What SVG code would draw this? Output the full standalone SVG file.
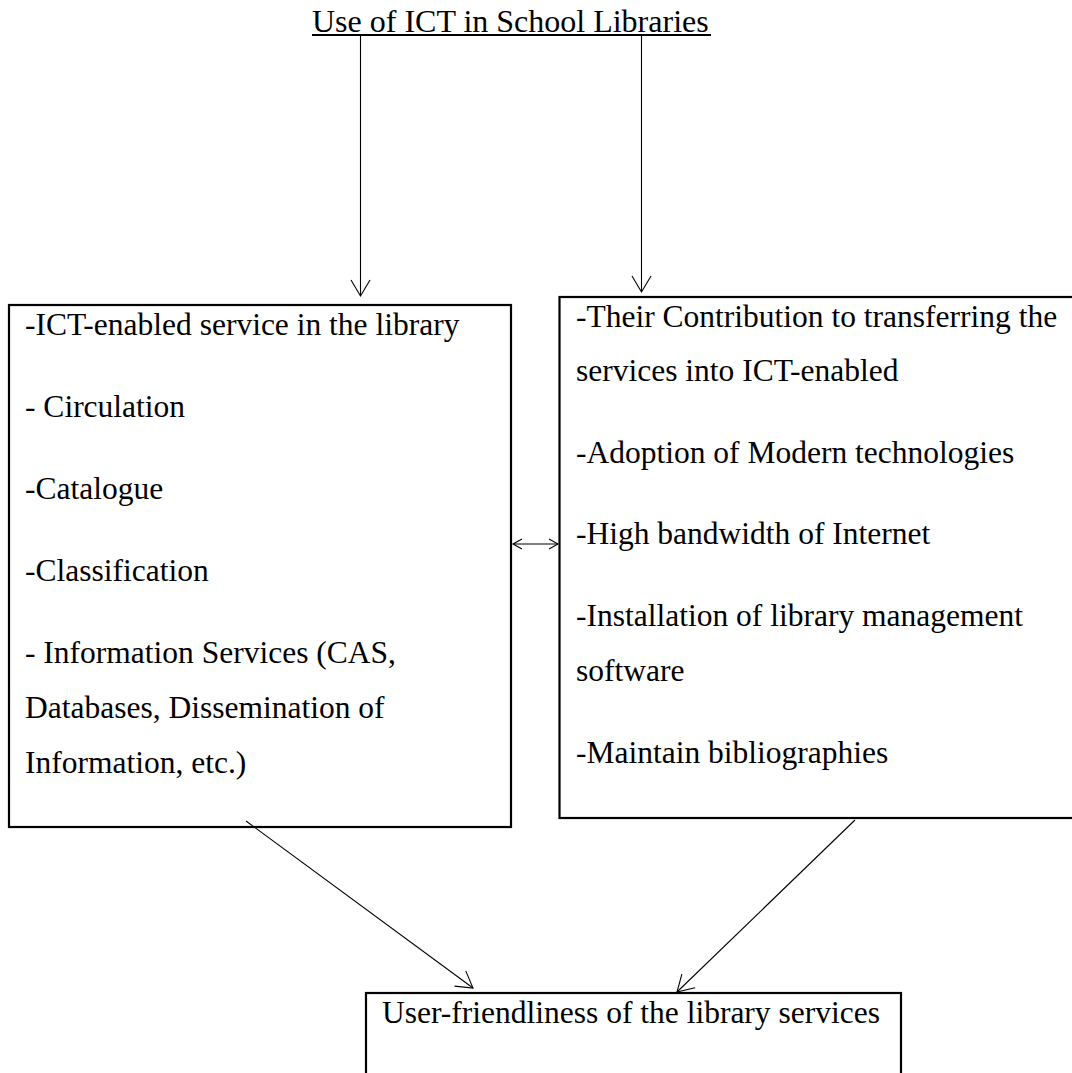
<svg xmlns="http://www.w3.org/2000/svg" width="1072" height="1073" viewBox="0 0 1072 1073">
<style>
  text { font-family: "Liberation Serif", "Times New Roman", serif; font-size: 31.5px; fill: #000; }
  .title { font-size: 32px; }
  .box { fill: #fff; stroke: #000; stroke-width: 2.2; }
  .conn { fill: none; stroke: #000; stroke-width: 1.1; }
</style>
<defs>
  <marker id="arr" viewBox="0 0 16 19" refX="16" refY="9.5" markerWidth="16" markerHeight="19" markerUnits="userSpaceOnUse" orient="auto" overflow="visible">
    <path d="M0,0 L16,9.5 L0,19" fill="none" stroke="#000" stroke-width="1.1"/>
  </marker>
  <marker id="arrs" viewBox="0 0 9 10" refX="9" refY="5" markerWidth="9" markerHeight="10" markerUnits="userSpaceOnUse" orient="auto-start-reverse" overflow="visible">
    <path d="M0,0 L9,5 L0,10" fill="none" stroke="#000" stroke-width="1.1"/>
  </marker>
</defs>
<rect width="1072" height="1073" fill="#fff"/>

<g id="title">
  <text class="title" x="312" y="31.5">Use of ICT in School Libraries</text>
  <line x1="312" y1="35" x2="711" y2="35" stroke="#000" stroke-width="2"/>
</g>

<g id="left-box">
  <rect class="box" x="9" y="305" width="502" height="522"/>
  <text x="25" y="335">-ICT-enabled service in the library</text>
  <text x="25" y="417">- Circulation</text>
  <text x="25" y="499">-Catalogue</text>
  <text x="25" y="581">-Classification</text>
  <text x="25" y="663">- Information Services (CAS,</text>
  <text x="25" y="718">Databases, Dissemination of</text>
  <text x="25" y="773">Information, etc.)</text>
</g>

<g id="right-box">
  <rect class="box" x="559.5" y="297" width="520" height="521"/>
  <text x="576" y="327">-Their Contribution to transferring the</text>
  <text x="576" y="381">services into ICT-enabled</text>
  <text x="576" y="463">-Adoption of Modern technologies</text>
  <text x="576" y="544">-High bandwidth of Internet</text>
  <text x="576" y="626">-Installation of library management</text>
  <text x="576" y="681">software</text>
  <text x="576" y="763">-Maintain bibliographies</text>
</g>

<g id="bottom-box">
  <rect class="box" x="366" y="993" width="535" height="100"/>
  <text x="382" y="1023">User-friendliness of the library services</text>
</g>

<g id="connectors">
  <line class="conn" x1="360.5" y1="36" x2="360.5" y2="296" marker-end="url(#arr)"/>
  <line class="conn" x1="641.5" y1="36" x2="641.5" y2="292" marker-end="url(#arr)"/>
  <line class="conn" x1="513" y1="544" x2="558" y2="544" marker-start="url(#arrs)" marker-end="url(#arrs)"/>
  <line class="conn" x1="246" y1="821" x2="473" y2="988" marker-end="url(#arr)"/>
  <line class="conn" x1="855" y1="820" x2="677" y2="992" marker-end="url(#arr)"/>
</g>
</svg>
